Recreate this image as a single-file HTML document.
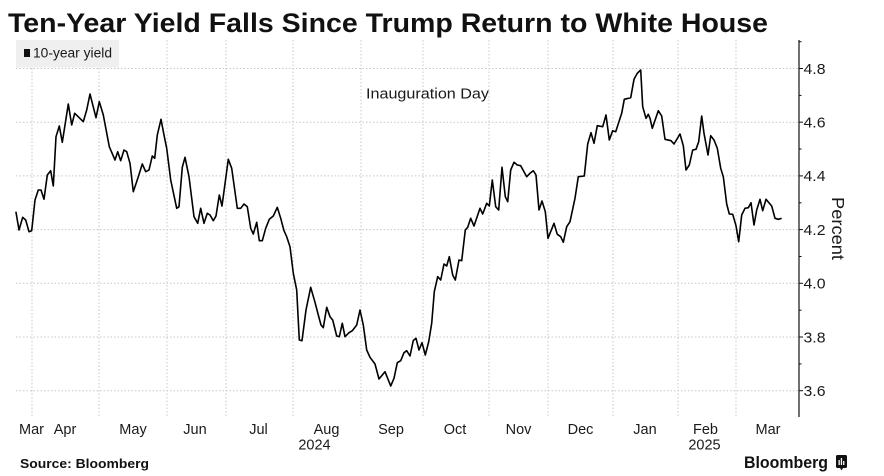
<!DOCTYPE html>
<html>
<head>
<meta charset="utf-8">
<style>
html,body{margin:0;padding:0;background:#fff;}
svg{display:block;}
text{font-family:"Liberation Sans",sans-serif;fill:#1a1a1a;}
</style>
</head>
<body>
<svg width="884" height="476" viewBox="0 0 884 476" xmlns="http://www.w3.org/2000/svg">
<rect x="0" y="0" width="884" height="476" fill="#fff"/>
<!-- Title -->
<text x="8" y="32" font-size="27" font-weight="bold" textLength="760" lengthAdjust="spacingAndGlyphs" style="fill:#111">Ten-Year Yield Falls Since Trump Return to White House</text>

<!-- horizontal gridlines -->
<g stroke="#c8c8c8" stroke-width="1" stroke-dasharray="1.5,2">
<line x1="16" y1="68.5" x2="799" y2="68.5"/>
<line x1="16" y1="122.2" x2="799" y2="122.2"/>
<line x1="16" y1="175.9" x2="799" y2="175.9"/>
<line x1="16" y1="229.6" x2="799" y2="229.6"/>
<line x1="16" y1="283.3" x2="799" y2="283.3"/>
<line x1="16" y1="337" x2="799" y2="337"/>
<line x1="16" y1="390.7" x2="799" y2="390.7"/>
</g>
<!-- vertical gridlines -->
<g stroke="#c8c8c8" stroke-width="1" stroke-dasharray="1.5,2">
<line x1="32" y1="40" x2="32" y2="416"/>
<line x1="99" y1="40" x2="99" y2="416"/>
<line x1="167" y1="40" x2="167" y2="416"/>
<line x1="226" y1="40" x2="226" y2="416"/>
<line x1="293" y1="40" x2="293" y2="416"/>
<line x1="361" y1="40" x2="361" y2="416"/>
<line x1="423" y1="40" x2="423" y2="416"/>
<line x1="489" y1="40" x2="489" y2="416"/>
<line x1="548" y1="40" x2="548" y2="416"/>
<line x1="613" y1="40" x2="613" y2="416"/>
<line x1="678" y1="40" x2="678" y2="416"/>
<line x1="736" y1="40" x2="736" y2="416"/>
</g>

<!-- legend -->
<rect x="16" y="40" width="103" height="27.5" fill="#efefef"/>
<rect x="24" y="49" width="6" height="8" fill="#111"/>
<text x="33" y="57.5" font-size="13.5" textLength="79" lengthAdjust="spacingAndGlyphs">10-year yield</text>

<!-- annotation -->
<text x="366" y="98.5" font-size="15" textLength="123" lengthAdjust="spacingAndGlyphs">Inauguration Day</text>

<!-- right axis -->
<line x1="799" y1="40" x2="799" y2="417" stroke="#111" stroke-width="1.2"/>
<g stroke="#111" stroke-width="1">
<line x1="799" y1="68.5" x2="803" y2="68.5"/>
<line x1="799" y1="122.2" x2="803" y2="122.2"/>
<line x1="799" y1="175.9" x2="803" y2="175.9"/>
<line x1="799" y1="229.6" x2="803" y2="229.6"/>
<line x1="799" y1="283.3" x2="803" y2="283.3"/>
<line x1="799" y1="337" x2="803" y2="337"/>
<line x1="799" y1="390.7" x2="803" y2="390.7"/>
<line x1="799" y1="41.7" x2="801.5" y2="41.7"/>
<line x1="799" y1="95.4" x2="801.5" y2="95.4"/>
<line x1="799" y1="149" x2="801.5" y2="149"/>
<line x1="799" y1="202.8" x2="801.5" y2="202.8"/>
<line x1="799" y1="256.5" x2="801.5" y2="256.5"/>
<line x1="799" y1="310.2" x2="801.5" y2="310.2"/>
<line x1="799" y1="363.9" x2="801.5" y2="363.9"/>
</g>
<g font-size="15">
<text x="803.5" y="73.8" textLength="22" lengthAdjust="spacingAndGlyphs">4.8</text>
<text x="803.5" y="127.5" textLength="22" lengthAdjust="spacingAndGlyphs">4.6</text>
<text x="803.5" y="181.2" textLength="22" lengthAdjust="spacingAndGlyphs">4.4</text>
<text x="803.5" y="234.9" textLength="22" lengthAdjust="spacingAndGlyphs">4.2</text>
<text x="803.5" y="288.6" textLength="22" lengthAdjust="spacingAndGlyphs">4.0</text>
<text x="803.5" y="342.3" textLength="22" lengthAdjust="spacingAndGlyphs">3.8</text>
<text x="803.5" y="396" textLength="22" lengthAdjust="spacingAndGlyphs">3.6</text>
</g>
<text transform="translate(832,228.5) rotate(90)" x="0" y="0" font-size="17.5" text-anchor="middle" textLength="63" lengthAdjust="spacingAndGlyphs">Percent</text>

<!-- x labels -->
<g font-size="14.5" text-anchor="middle">
<text x="31.5" y="434">Mar</text>
<text x="65" y="434">Apr</text>
<text x="133" y="434">May</text>
<text x="195" y="434">Jun</text>
<text x="258.5" y="434">Jul</text>
<text x="326.5" y="434">Aug</text>
<text x="391" y="434">Sep</text>
<text x="455" y="434">Oct</text>
<text x="518.5" y="434">Nov</text>
<text x="580.5" y="434">Dec</text>
<text x="645" y="434">Jan</text>
<text x="705.5" y="434">Feb</text>
<text x="768" y="434">Mar</text>
<text x="314.5" y="449.5">2024</text>
<text x="704.5" y="449.5">2025</text>
</g>

<!-- data line -->
<polyline fill="none" stroke="#000" stroke-width="1.6" stroke-linejoin="round" stroke-linecap="round" points="
16,212.3 19,230 22.7,217.3 25.7,220 29,231.7 31.7,230.7 35,200 38.3,190 41,190 44,199.3 47.3,175 50.7,170.7 53.3,186 56,136.7 59.3,126 62.3,142.3 68.3,104 71.7,125 74.7,113.3 83.3,121.7 86.7,110 90,94 96,117.7 99.3,101.7 103.3,115 109.3,146.7 115,160 117.7,151.7 120.7,160.7 124,150 126.7,151.7 130,163.3 133.3,191.7 138.3,176.7 142.3,164 145.7,171.7 149,170 152.3,156 154.7,158.3 157.3,135 161,119.3 164,135 166.7,148.3 170.7,180 176.7,208.3 179,206.7 182.3,167.3 185,157.3 189,176.7 194,216.7 197.7,223.3 200.7,208.3 204,223.3 207.3,213.3 210,215 213.3,220.7 216,216 219.3,195 222,206 228.3,159.3 231.7,168.3 237.3,208.3 240.7,208.3 244,204 247.3,206.7 250.7,228.3 253.3,234 256.7,222.3 259.3,240.7 262.3,240.7 265.7,228.3 269.3,219.3 273.3,216 277.3,207.3 280.7,218.3 284,230.7 286.7,236.7 290,246.7 293.3,273.3 296.7,290 299.3,340 302,340.7 306,310 310.7,287.3 315,302.3 318.3,315 321,325 323.3,327.7 326.7,307.3 330,316.7 332.7,320 336.7,336 339.3,336.7 342.3,323.3 345,336.7 349,332.7 352.3,330.7 356.7,325 360,310 363.3,325 366.7,350 370,357.3 375,364 379,379 385,371.7 390.7,386 394,378.3 397.3,362.7 400.7,360.7 404,352.7 406.7,350.7 410,356 413.3,340.5 416,338.3 419,350 422,342.7 425.3,355 428.7,341.7 431.7,323.3 434.3,291.7 437.7,276.7 440.7,280 444,264 446.7,266 449.3,256.7 452.7,275 455.3,280 459,260 461.7,260.7 465.3,230 467.7,227.3 470.7,218.3 474,226 480,208.3 482.7,214 486.7,203.3 489.3,206 492.3,180 495.7,206.7 498.7,210 502,167.3 505.3,196.7 507.7,201.7 510.7,170 514,162.3 517.3,165 520.7,165.7 526.7,176.7 530,173.3 533.3,170.7 536,175 539,210 542,201 545.3,211.7 548,238.3 554,223.3 557.3,234.3 560.7,236.7 563.3,242.3 566.7,226.7 570,221.7 575,198.3 578.3,176.7 584.3,176 587.7,144 591,132.7 594,143.3 597.3,125.7 602.7,126.7 606,115 609.3,140 612.7,130.7 615.7,131.7 621.7,113.3 624.3,99.3 630.7,97.7 634,79.3 637.3,73.3 640.7,70 642.7,106.7 646,118.3 648.3,114.3 650,118.3 652.3,128.3 658.3,110.7 661.7,116 665,139.3 671,140.7 674,144 680,134 683.3,145.7 686,170 689.3,165 692.7,150 696,149.3 698.7,141.7 701.7,116 704,133.3 708,155 710.7,135.7 714,140 717.3,148.3 720.7,168.3 723.3,176.7 726.7,204 729.3,214 732.7,214.3 736,225.7 738.7,241.7 741.7,215 745,208.3 748.3,207.7 751,202.7 754,225 756.7,210 760,199.3 762.7,210.7 766,199.3 771.7,206 775,218.3 778.3,219.3 781,218.5"/>

<!-- footer -->
<text x="20" y="468" font-size="13" font-weight="bold" textLength="129" lengthAdjust="spacingAndGlyphs" style="fill:#111">Source: Bloomberg</text>
<text x="744" y="468" font-size="17" font-weight="bold" textLength="84" lengthAdjust="spacingAndGlyphs" style="fill:#111">Bloomberg</text>
<g>
<rect x="836" y="455" width="11" height="13" rx="1.5" fill="#111"/>
<polygon points="839.5,467 843.5,467 841.5,470.5" fill="#111"/>
<rect x="838.5" y="460" width="1.3" height="5" fill="#fff"/>
<rect x="840.8" y="458" width="1.3" height="7" fill="#fff"/>
<rect x="843.1" y="461" width="1.3" height="4" fill="#fff"/>
</g>
</svg>
</body>
</html>
